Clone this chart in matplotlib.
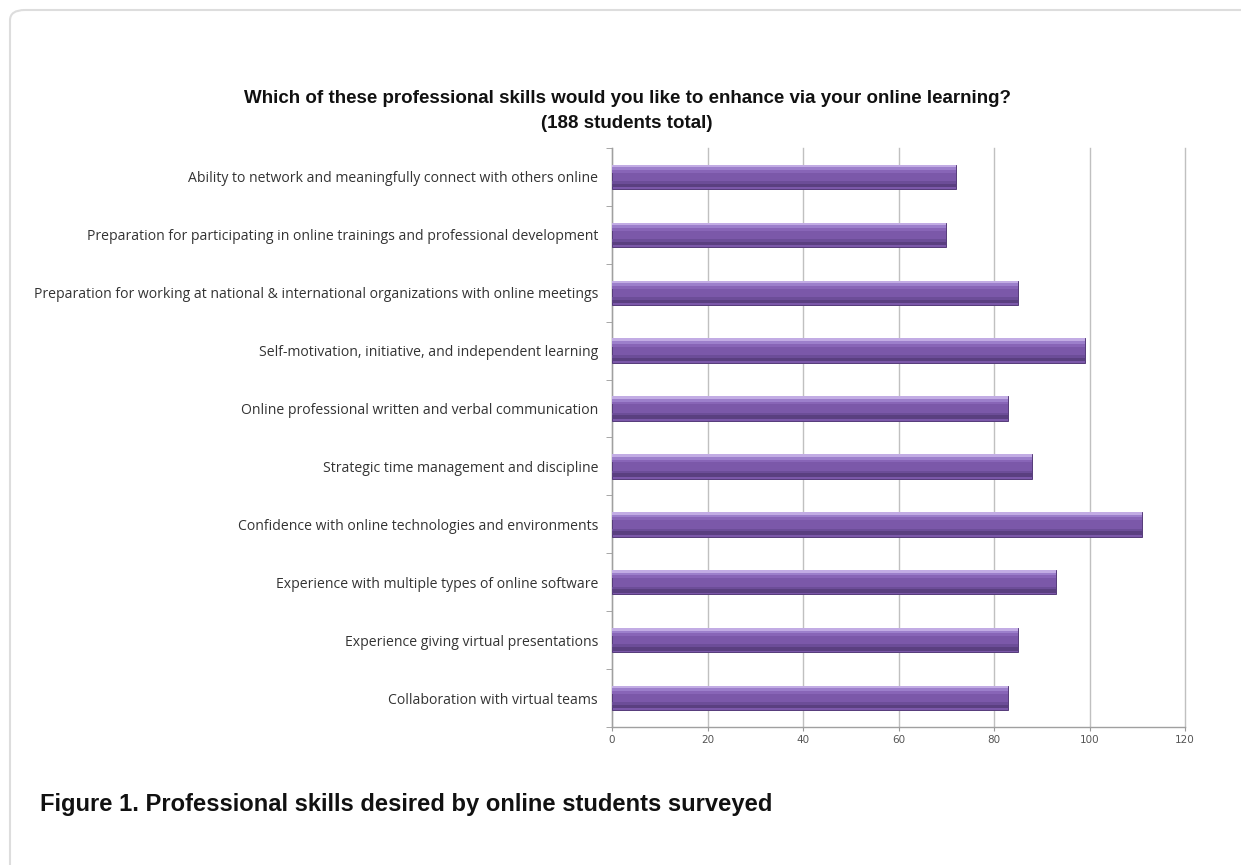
import matplotlib
matplotlib.use("Agg")
import matplotlib.pyplot as plt
from matplotlib.patches import FancyBboxPatch

categories = [
    "Ability to network and meaningfully connect with others online",
    "Preparation for participating in online trainings and professional development",
    "Preparation for working at national & international organizations with online meetings",
    "Self-motivation, initiative, and independent learning",
    "Online professional written and verbal communication",
    "Strategic time management and discipline",
    "Confidence with online technologies and environments",
    "Experience with multiple types of online software",
    "Experience giving virtual presentations",
    "Collaboration with virtual teams",
]
values = [72, 70, 85, 99, 83, 88, 111, 93, 85, 83]
xticks = [0, 20, 40, 60, 80, 100, 120]

title = "Which of these professional skills would you like to enhance via your online learning?\n(188 students total)"
caption = "Figure 1. Professional skills desired by online students surveyed"

fig = plt.figure(figsize=(12.41, 8.65), dpi=100)
fig.patch.set_facecolor("white")

# outer rounded frame on a background axes
bg = fig.add_axes([0, 0, 1, 1], zorder=-10)
bg.set_axis_off()
bg.set_xlim(0, 1)
bg.set_ylim(0, 1)
frame = FancyBboxPatch((10/1241, -0.05), 1.2, 1 - 10/865 + 0.05,
                       boxstyle="round,pad=0,rounding_size=0.012",
                       facecolor="white", edgecolor="#dddddd", linewidth=1.5)
bg.add_patch(frame)

ax = fig.add_axes([612/1241, 1 - 727/865, (1185 - 612)/1241, (727 - 148)/865])
ax.set_facecolor("none")

ypos = list(range(len(categories)))
h = 0.42
# base bar
ax.barh(ypos, values, height=h, color="#7b58a9", edgecolor="#553b7a",
        linewidth=0.7, zorder=3)
# gradient strips (top light -> bottom dark)
strips = [(-0.185, 0.05, "#c2ace4"), (-0.14, 0.05, "#9c7fcb"),
          (-0.095, 0.05, "#8865b7"), (0.10, 0.05, "#6c4d98"),
          (0.15, 0.06, "#5a3f80")]
for off, hh, col in strips:
    ax.barh([y + off for y in ypos], values, height=hh, color=col,
            linewidth=0, zorder=4)

ax.set_ylim(len(categories) - 0.5, -0.5)
ax.set_xlim(0, 120)
ax.set_xticks(xticks)
ax.set_xticklabels([str(t) for t in xticks], fontsize=7.5, color="#555555")
ax.set_yticks(ypos)
ax.set_yticklabels(categories, fontsize=10.1, color="#333333", family="Open Sans")
ax.tick_params(axis="y", which="major", length=0, pad=10)
ax.set_yticks([y + 0.5 for y in range(-1, len(categories))], minor=True)
ax.tick_params(axis="y", which="minor", length=4, color="#999999")
ax.tick_params(axis="x", length=3, color="#999999", pad=3)

ax.grid(axis="x", color="#c0c0c0", linewidth=1, zorder=0)
for gl in ax.get_xgridlines():
    gl.set_clip_on(False)
ax.set_axisbelow(True)
for s in ["top", "right"]:
    ax.spines[s].set_visible(False)
for s in ["left", "bottom"]:
    ax.spines[s].set_color("#a0a0a0")
    ax.spines[s].set_linewidth(1)

fig.text(627/1241, 1 - 111/865, title, ha="center", va="center",
         fontsize=13.5, fontweight="bold", family="Liberation Sans",
         linespacing=1.6, color="#111111")

fig.text(40/1241, 1 - 805/865, caption, ha="left", va="center",
         fontsize=17.1, fontweight="bold", family="Liberation Sans", color="#111111")

fig.savefig("out.png", dpi=100, facecolor="white")
